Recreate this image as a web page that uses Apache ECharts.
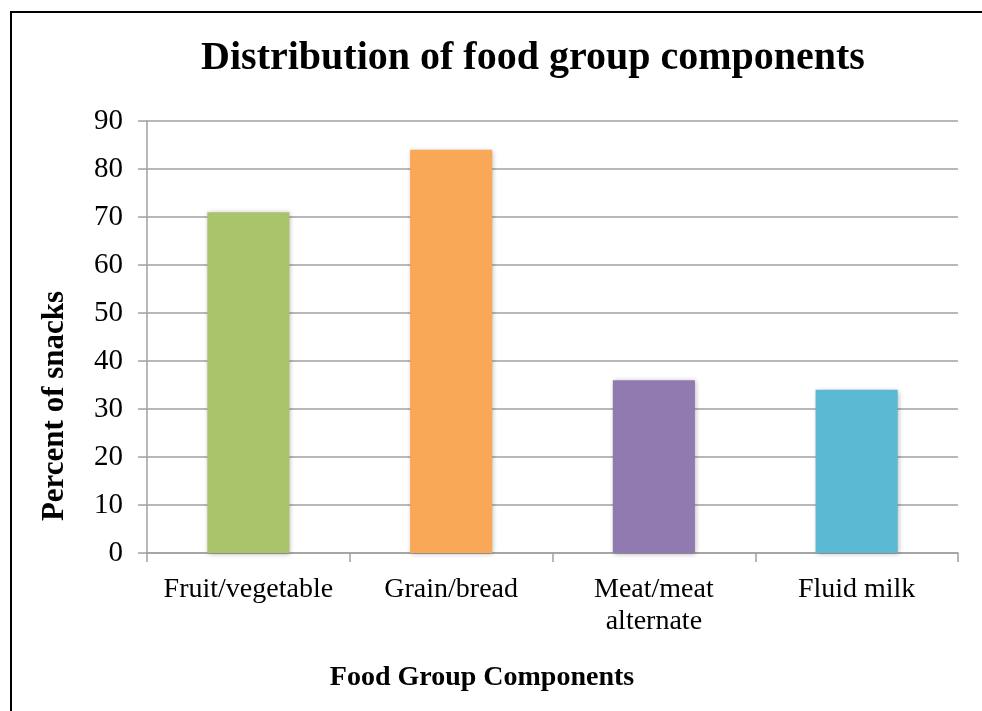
<!DOCTYPE html>
<html><head><meta charset="utf-8">
<script src="https://cdn.jsdelivr.net/npm/echarts@6/dist/echarts.min.js"></script>
<style>html,body{margin:0;padding:0;background:#fff}#c{width:982px;height:711px}</style>
</head><body><div id="c"></div>
<script>
const categories = ['Fruit/vegetable', 'Grain/bread', 'Meat/meat\nalternate', 'Fluid milk'];
const values = [71, 84, 36, 34];
const barColors = ['#AAC46B', '#F9A857', '#917AB0', '#5BB8D2'];
const yTicks = { min: 0, max: 90, interval: 10 };
const titleText = 'Distribution of food group components';
const xName = 'Food Group Components';
const yName = 'Percent of snacks';

const serif = '"Liberation Serif", "DejaVu Serif", serif';
const chart = echarts.init(document.getElementById('c'));
chart.setOption({
  animation: false,
  backgroundColor: '#fff',
  graphic: [
    { type: 'rect', shape: { x: 11, y: 12, width: 1000, height: 1000 },
      style: { fill: 'none', stroke: '#000', lineWidth: 2 }, z: 100 },
    { type: 'text', x: 533, y: 59, style: { text: titleText, textAlign: 'center', textVerticalAlign: 'middle',
      font: 'bold 40px "Liberation Serif", serif', fill: '#000' } },
    { type: 'text', x: 482, y: 678, style: { text: xName, textAlign: 'center', textVerticalAlign: 'middle',
      font: 'bold 28px "Liberation Serif", serif', fill: '#000' } },
    { type: 'text', x: 55, y: 406, rotation: Math.PI / 2, style: { text: yName, textAlign: 'center', textVerticalAlign: 'middle',
      font: 'bold 31px "Liberation Serif", serif', fill: '#000' } }
  ],
  grid: { left: 147, right: 24, top: 121, bottom: 158, containLabel: false },
  xAxis: {
    type: 'category', data: categories,
    axisLine: { lineStyle: { color: '#A0A0A0', width: 1.5 } },
    axisTick: { show: true, alignWithLabel: false, length: 9, lineStyle: { color: '#A0A0A0', width: 1.5 } },
    axisLabel: { interval: 0, hideOverlap: false, fontFamily: serif, fontSize: 28, color: '#000', margin: 21, lineHeight: 32 }
  },
  yAxis: {
    type: 'value', min: yTicks.min, max: yTicks.max, interval: yTicks.interval,
    axisLine: { show: true, lineStyle: { color: '#A0A0A0', width: 1.5 } },
    axisTick: { show: true, length: 9, inside: false, lineStyle: { color: '#A0A0A0', width: 1.5 } },
    splitLine: { lineStyle: { color: '#A0A0A0', width: 1.5 } },
    axisLabel: { fontFamily: serif, fontSize: 29, color: '#000', margin: 24 }
  },
  series: [{
    type: 'bar', barWidth: '40.5%',
    data: values.map((v, i) => ({ value: v, itemStyle: { color: barColors[i] } })),
    itemStyle: { shadowBlur: 5, shadowColor: 'rgba(0,0,0,0.3)', shadowOffsetX: 1, shadowOffsetY: 1 }
  }]
});
</script></body></html>
